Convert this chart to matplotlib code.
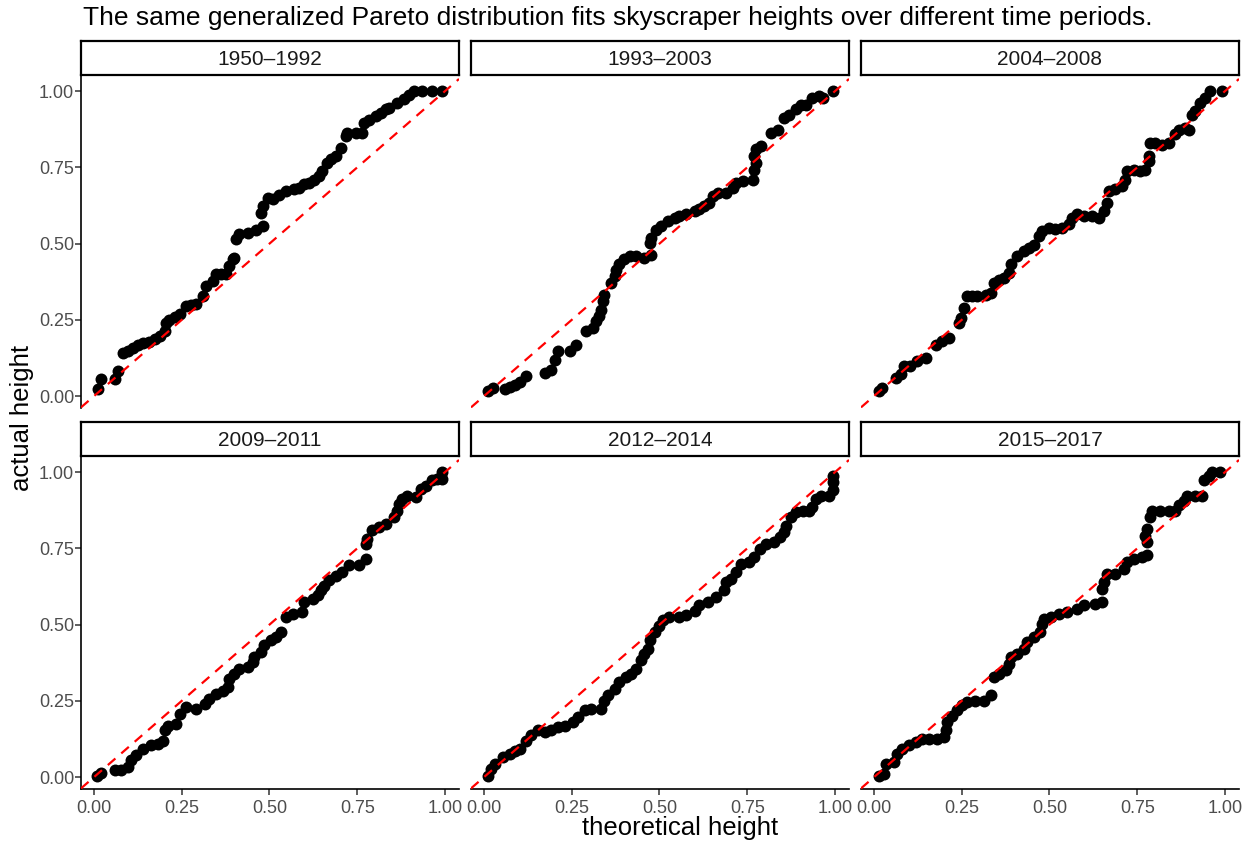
import numpy as np
import matplotlib.pyplot as plt

plt.rcParams['font.family'] = ['Liberation Sans', 'DejaVu Sans']

periods = ["1950–1992", "1993–2003", "2004–2008",
           "2009–2011", "2012–2014", "2015–2017"]

# theoretical vs actual (scaled) heights for each period
theo_1950 = [0.011, 0.021, 0.059, 0.068, 0.082, 0.097, 0.111, 0.125, 0.139, 0.156,
             0.173, 0.187, 0.201, 0.206, 0.215, 0.230, 0.244, 0.263, 0.277, 0.291,
             0.310, 0.319, 0.338, 0.348, 0.362, 0.376, 0.386, 0.395, 0.400, 0.405,
             0.414, 0.438, 0.462, 0.481, 0.476, 0.481, 0.495, 0.509, 0.528, 0.547,
             0.571, 0.585, 0.599, 0.613, 0.627, 0.642, 0.651, 0.665, 0.675, 0.689,
             0.703, 0.718, 0.722, 0.746, 0.765, 0.770, 0.784, 0.803, 0.817, 0.831,
             0.841, 0.864, 0.883, 0.898, 0.912, 0.936, 0.964, 0.992]
actual_1950 = [0.024, 0.055, 0.055, 0.082, 0.142, 0.148, 0.158, 0.169, 0.175, 0.178,
               0.186, 0.197, 0.213, 0.240, 0.251, 0.259, 0.268, 0.295, 0.298, 0.301,
               0.328, 0.361, 0.377, 0.399, 0.399, 0.399, 0.426, 0.448, 0.454, 0.514,
               0.530, 0.536, 0.546, 0.557, 0.601, 0.623, 0.650, 0.645, 0.661, 0.672,
               0.678, 0.684, 0.694, 0.700, 0.710, 0.721, 0.738, 0.765, 0.776, 0.787,
               0.814, 0.852, 0.863, 0.863, 0.863, 0.896, 0.907, 0.918, 0.930, 0.940,
               0.945, 0.962, 0.973, 0.989, 1.000, 1.000, 1.000, 1.000]

theo_1993 = [0.011, 0.026, 0.059, 0.073, 0.087, 0.102, 0.120, 0.173, 0.192, 0.201,
             0.211, 0.244, 0.263, 0.291, 0.310, 0.320, 0.329, 0.334, 0.339, 0.343,
             0.362, 0.372, 0.377, 0.386, 0.400, 0.415, 0.434, 0.457, 0.476, 0.472,
             0.476, 0.491, 0.505, 0.524, 0.543, 0.557, 0.576, 0.600, 0.614, 0.628,
             0.642, 0.652, 0.666, 0.690, 0.709, 0.718, 0.737, 0.766, 0.770, 0.775,
             0.770, 0.775, 0.789, 0.818, 0.837, 0.856, 0.870, 0.889, 0.903, 0.917,
             0.936, 0.955, 0.965, 0.993]
actual_1993 = [0.016, 0.027, 0.022, 0.031, 0.038, 0.046, 0.066, 0.077, 0.087, 0.120,
               0.148, 0.148, 0.169, 0.213, 0.224, 0.246, 0.262, 0.284, 0.311, 0.333,
               0.372, 0.393, 0.415, 0.432, 0.448, 0.459, 0.459, 0.454, 0.464, 0.503,
               0.519, 0.546, 0.557, 0.574, 0.585, 0.592, 0.596, 0.607, 0.615, 0.623,
               0.634, 0.656, 0.667, 0.667, 0.683, 0.699, 0.705, 0.710, 0.743, 0.765,
               0.787, 0.809, 0.820, 0.863, 0.874, 0.913, 0.923, 0.940, 0.956, 0.956,
               0.978, 0.984, 0.978, 1.000]

theo_2004 = [0.014, 0.024, 0.062, 0.076, 0.085, 0.104, 0.123, 0.147, 0.176, 0.194,
             0.213, 0.242, 0.247, 0.256, 0.266, 0.280, 0.294, 0.318, 0.332, 0.342,
             0.356, 0.370, 0.384, 0.389, 0.408, 0.427, 0.441, 0.455, 0.470, 0.479,
             0.498, 0.517, 0.536, 0.555, 0.565, 0.579, 0.598, 0.621, 0.640, 0.655,
             0.664, 0.669, 0.688, 0.707, 0.716, 0.721, 0.740, 0.759, 0.773, 0.783,
             0.783, 0.787, 0.802, 0.821, 0.840, 0.859, 0.868, 0.887, 0.897, 0.906,
             0.916, 0.930, 0.944, 0.958, 0.991]
actual_2004 = [0.016, 0.027, 0.060, 0.071, 0.098, 0.098, 0.115, 0.126, 0.169, 0.180,
               0.191, 0.240, 0.257, 0.290, 0.328, 0.328, 0.328, 0.333, 0.339, 0.372,
               0.380, 0.388, 0.404, 0.432, 0.459, 0.475, 0.486, 0.497, 0.525, 0.541,
               0.552, 0.549, 0.552, 0.563, 0.585, 0.596, 0.590, 0.590, 0.585, 0.607,
               0.634, 0.672, 0.678, 0.689, 0.710, 0.738, 0.743, 0.738, 0.743, 0.770,
               0.787, 0.831, 0.831, 0.825, 0.831, 0.858, 0.874, 0.880, 0.874, 0.923,
               0.934, 0.962, 0.978, 1.000, 1.000]

theo_2009 = [0.009, 0.021, 0.059, 0.078, 0.097, 0.106, 0.120, 0.139, 0.163, 0.182,
             0.196, 0.201, 0.210, 0.234, 0.244, 0.263, 0.291, 0.315, 0.329, 0.348,
             0.367, 0.381, 0.386, 0.400, 0.414, 0.438, 0.452, 0.457, 0.476, 0.485,
             0.504, 0.518, 0.533, 0.547, 0.566, 0.594, 0.599, 0.623, 0.637, 0.646,
             0.656, 0.670, 0.689, 0.708, 0.727, 0.755, 0.774, 0.774, 0.779, 0.793,
             0.812, 0.831, 0.855, 0.864, 0.869, 0.879, 0.893, 0.917, 0.931, 0.945,
             0.964, 0.978, 0.992, 0.992]
actual_2009 = [0.005, 0.013, 0.022, 0.024, 0.033, 0.055, 0.071, 0.093, 0.104, 0.109,
               0.120, 0.153, 0.169, 0.175, 0.208, 0.230, 0.224, 0.240, 0.257, 0.273,
               0.284, 0.295, 0.322, 0.339, 0.355, 0.361, 0.377, 0.393, 0.410, 0.432,
               0.448, 0.459, 0.475, 0.525, 0.536, 0.541, 0.574, 0.585, 0.596, 0.612,
               0.628, 0.645, 0.661, 0.672, 0.694, 0.694, 0.716, 0.765, 0.781, 0.809,
               0.820, 0.831, 0.852, 0.874, 0.896, 0.913, 0.923, 0.918, 0.945, 0.956,
               0.973, 0.978, 0.978, 1.000]

theo_2012 = [0.011, 0.021, 0.030, 0.054, 0.073, 0.087, 0.102, 0.120, 0.135, 0.154,
             0.173, 0.192, 0.211, 0.230, 0.253, 0.268, 0.287, 0.305, 0.334, 0.343,
             0.353, 0.372, 0.386, 0.405, 0.419, 0.434, 0.448, 0.457, 0.467, 0.472,
             0.486, 0.500, 0.509, 0.528, 0.557, 0.576, 0.600, 0.614, 0.638, 0.661,
             0.685, 0.690, 0.704, 0.718, 0.732, 0.756, 0.770, 0.785, 0.804, 0.827,
             0.842, 0.856, 0.861, 0.875, 0.889, 0.908, 0.927, 0.936, 0.946, 0.960,
             0.984, 0.993, 0.993, 0.993]
actual_2012 = [0.005, 0.027, 0.044, 0.066, 0.077, 0.087, 0.093, 0.120, 0.137, 0.153,
               0.148, 0.153, 0.164, 0.169, 0.180, 0.197, 0.219, 0.224, 0.224, 0.251,
               0.268, 0.290, 0.311, 0.328, 0.339, 0.355, 0.383, 0.404, 0.421, 0.448,
               0.475, 0.497, 0.514, 0.525, 0.525, 0.530, 0.546, 0.563, 0.574, 0.590,
               0.612, 0.639, 0.650, 0.672, 0.699, 0.705, 0.721, 0.749, 0.765, 0.770,
               0.787, 0.803, 0.825, 0.852, 0.869, 0.874, 0.874, 0.885, 0.913, 0.923,
               0.923, 0.940, 0.967, 0.989]

theo_2015 = [0.014, 0.028, 0.033, 0.057, 0.066, 0.081, 0.100, 0.119, 0.138, 0.157,
             0.180, 0.199, 0.204, 0.209, 0.223, 0.237, 0.251, 0.266, 0.289, 0.313,
             0.332, 0.342, 0.356, 0.375, 0.384, 0.389, 0.408, 0.427, 0.436, 0.455,
             0.474, 0.479, 0.484, 0.503, 0.527, 0.550, 0.579, 0.598, 0.631, 0.650,
             0.650, 0.655, 0.664, 0.688, 0.712, 0.721, 0.740, 0.764, 0.778, 0.778,
             0.773, 0.778, 0.787, 0.792, 0.816, 0.840, 0.859, 0.868, 0.882, 0.892,
             0.916, 0.935, 0.939, 0.954, 0.963, 0.987]
actual_2015 = [0.005, 0.011, 0.044, 0.049, 0.077, 0.093, 0.104, 0.115, 0.126, 0.126,
               0.126, 0.131, 0.153, 0.180, 0.202, 0.219, 0.235, 0.246, 0.251, 0.251,
               0.268, 0.328, 0.339, 0.350, 0.372, 0.393, 0.404, 0.421, 0.443, 0.459,
               0.475, 0.503, 0.519, 0.525, 0.536, 0.541, 0.552, 0.563, 0.568, 0.574,
               0.617, 0.639, 0.667, 0.667, 0.683, 0.705, 0.716, 0.721, 0.727, 0.770,
               0.792, 0.814, 0.852, 0.874, 0.874, 0.874, 0.874, 0.891, 0.907, 0.923,
               0.923, 0.923, 0.973, 0.989, 1.000, 1.000]

theo = [theo_1950, theo_1993, theo_2004, theo_2009, theo_2012, theo_2015]
actual = [actual_1950, actual_1993, actual_2004, actual_2009, actual_2012, actual_2015]

ticks = [0, 0.25, 0.5, 0.75, 1.0]
tick_labels = ["0.00", "0.25", "0.50", "0.75", "1.00"]

W, H = 1252, 847
fig = plt.figure(figsize=(W / 100, H / 100), dpi=100)

col_left = [81, 471, 861]
panel_w = 378
row_top = [75, 456]
panel_h = 333
strip_h = 34

for i in range(6):
    r, c = divmod(i, 3)
    x0 = col_left[c]
    y0 = row_top[r]
    ax = fig.add_axes([x0 / W, 1 - (y0 + panel_h) / H, panel_w / W, panel_h / H])
    ax.scatter(theo[i], actual[i], s=74, color="black", linewidths=0, zorder=2)
    ax.axline((0, 0), (1, 1), color="#FF0000", lw=1.6, dashes=(4.5, 3.5), zorder=3)
    ax.set_xlim(-0.037, 1.04)
    ax.set_ylim(-0.039, 1.053)
    ax.set_xticks(ticks)
    ax.set_yticks(ticks)
    for s in ["top", "right"]:
        ax.spines[s].set_visible(False)
    ax.spines["left"].set_visible(c == 0)
    ax.spines["bottom"].set_visible(r == 1)
    for s in ["left", "bottom"]:
        ax.spines[s].set_linewidth(1.2)
    ax.tick_params(axis="both", length=4, width=1.1, color="#333333",
                   labelsize=13, labelcolor="#4D4D4D")
    ax.tick_params(axis="y", pad=1, left=(c == 0), labelleft=(c == 0))
    ax.tick_params(axis="x", pad=4, bottom=(r == 1), labelbottom=(r == 1))
    ax.set_xticklabels(tick_labels if r == 1 else [])
    ax.set_yticklabels(tick_labels if c == 0 else [])

    # facet strip
    sax = fig.add_axes([x0 / W, 1 - y0 / H, panel_w / W, strip_h / H])
    sax.set_xticks([])
    sax.set_yticks([])
    for s in sax.spines.values():
        s.set_linewidth(1.6)
        s.set_color("black")
    sax.text(0.5, 0.45, periods[i], ha="center", va="center", fontsize=15,
             color="#1A1A1A", transform=sax.transAxes)

fig.text(83 / W, 1 - 18 / H, "The same generalized Pareto distribution fits skyscraper heights over different time periods.",
         ha="left", va="center", fontsize=19, color="black")
fig.text(22 / W, 1 - 418 / H, "actual height", rotation=90, ha="center", va="center",
         fontsize=18.5, color="black")
fig.text(680 / W, 1 - 828 / H, "theoretical height", ha="center", va="center",
         fontsize=18.5, color="black")

fig.savefig("out.png", dpi=100)
